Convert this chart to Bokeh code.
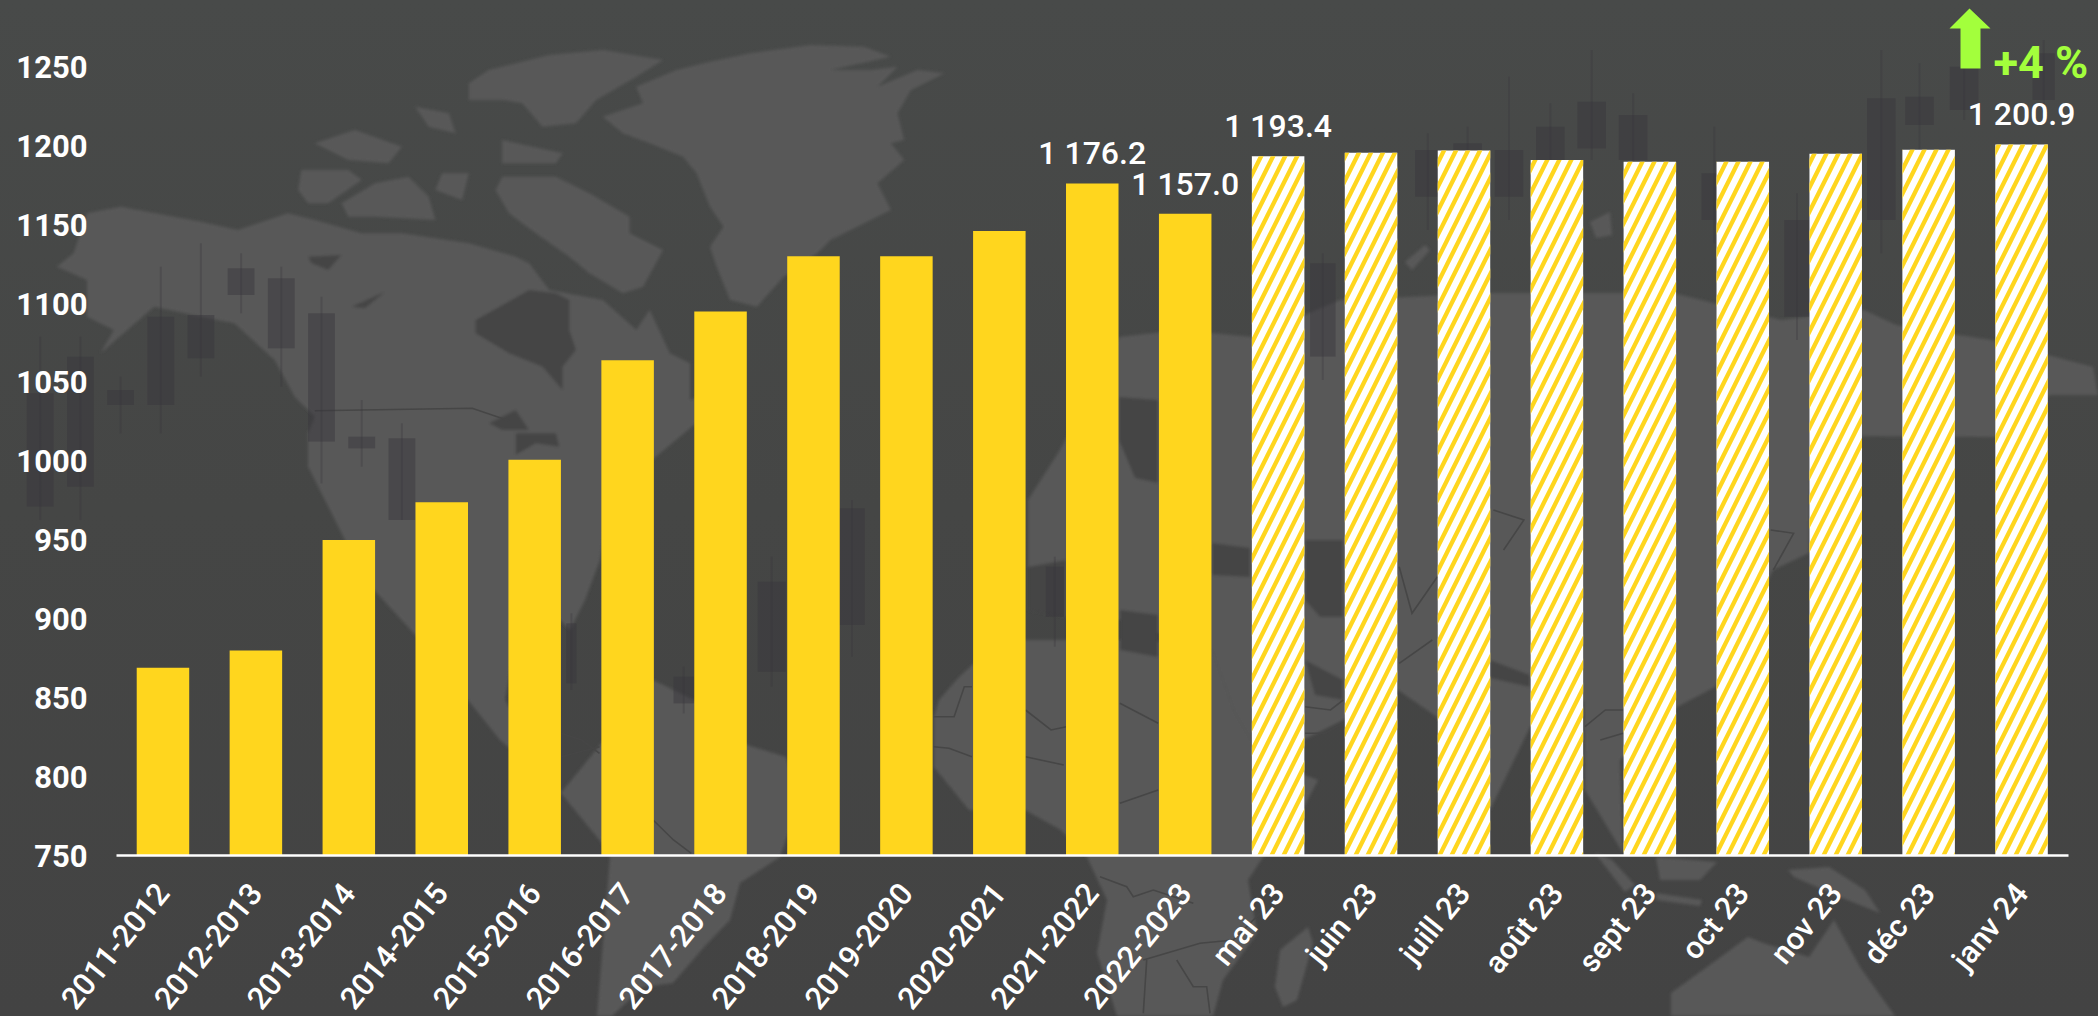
from math import radians
from urllib.parse import quote
from bokeh.plotting import figure
from bokeh.models import (Range1d, PolyAnnotation, Label, GlobalInlineStyleSheet,
                          FixedTicker, ColumnDataSource)
from bokeh.core.properties import value
from bokeh.embed import file_html
from bokeh.resources import INLINE

# ---------- data ----------
categories = ["2011-2012", "2012-2013", "2013-2014", "2014-2015", "2015-2016", "2016-2017",
              "2017-2018", "2018-2019", "2019-2020", "2020-2021", "2021-2022", "2022-2023",
              "mai 23", "juin 23", "juill 23", "août 23", "sept 23", "oct 23", "nov 23",
              "déc 23", "janv 24"]
annual_categories = categories[:12]
annual_values = [869, 880, 950, 974, 1001, 1064, 1095, 1130, 1130, 1146, 1176.2, 1157.0]
monthly_categories = categories[12:]
monthly_values = [1193.4, 1195.7, 1197, 1191, 1190, 1190, 1195, 1197.5, 1200.9]
label_categories = ["2021-2022", "2022-2023", "mai 23", "janv 24"]
label_values = [1176.2, 1157.0, 1193.4, 1200.9]
label_texts = ["1 176.2", "1 157.0", "1 193.4", "1 200.9"]
y_ticks = [750, 800, 850, 900, 950, 1000, 1050, 1100, 1150, 1200, 1250]
change_text = "+4 %"

# ---------- decorative backdrop (window pixels) ----------
BG = "#454545"
LAND = "#585858"
YELLOW = "#FFD61E"
GREEN = "#A3FF3C"


def z5(pts):
    return [(x / 1.493, y / 3) for x, y in pts]


def z6(pts):
    return [(x / 1.96 + 500, y / 3 + 500) for x, y in pts]


def z8(pts):
    return [(x / 1.965 + 1300, y / 3 + 500) for x, y in pts]


def z4(pts):
    return [(x / 3 + 1100, y / 3 + 780) for x, y in pts]


land = [
    z5([(1120,160),(1210,135),(1290,140),(1330,170),(1240,210),(1300,210),(1340,200),(1310,260),(1370,210),
        (1410,220),(1360,270),(1340,340),(1350,420),(1330,430),(1350,480),(1310,550),(1330,630),(1280,680),
        (1240,720),(1220,760),(1170,830),(1130,920),(1090,900),(1070,800),(1060,740),(1080,680),(1060,620),
        (1040,520),(1020,470),(970,430),(930,400),(900,350),(960,310),(950,260),(1010,210),(1060,185)]),
    z5([(730,210),(820,165),(900,150),(990,180),(950,230),(890,300),(860,370),(810,380),(780,310),(750,300),(700,300),(700,250)]),
    z5([(750,530),(830,530),(880,580),(940,650),(940,700),(990,750),(960,860),(930,880),(880,820),(850,770),(800,700),(760,640),(740,570)]),
    z5([(450,510),(520,510),(540,540),(490,610),(460,610),(445,570)]),
    z5([(510,610),(560,550),(610,530),(640,590),(650,660),(560,650),(520,650)]),
    z5([(470,430),(530,390),(600,440),(580,490),(520,480)]),
    z5([(620,320),(670,340),(680,400),(640,380)]),
    z5([(660,520),(700,520),(690,600),(650,570)]),
    z5([(750,420),(840,460),(830,490),(750,490)]),
    z5([(130,640),(180,620),(300,665),(355,690),(430,640),(470,660),(540,700),(600,700),(700,730),(770,770),
        (790,790),(820,870),(900,900),(950,990),(970,930),(1000,1060),(1030,1090),(1030,1200),(1060,1180)])
    + [(700,420),(640,470),(610,500),(600,560),(585,600),(570,630),(550,610),(520,620),(505,700),(560,790),
       (602,843),(561,793),(500,740),(420,640),(365,580),(335,520)]
    + z5([(460,1400),(460,1300),(470,1250),(440,1190),(410,1080),(350,970),(300,950),(230,920),(150,1060),
          (170,990),(130,950),(130,840),(85,800),(110,760)]),
    [(561,793),(653,680),(694,700),(747,745),(786,757),(800,800),(780,857),(740,883),(730,920),(704,947),
     (673,983),(643,987),(612,1016),(597,1016),(610,857),(602,843)],
    [(934,717),(939,700),(959,677),(1000,640),(1150,640),(1212,650),(1235,713),(1263,760),(1318,780),(1305,805),
     (1263,857),(1248,880),(1257,933),(1223,980),(1213,1016),(1117,1016),(1097,953),(1107,900),(1087,857),
     (1061,830),(1025,810),(969,810),(934,767)],
    [(1308,927),(1313,943),(1297,1000),(1283,1007),(1275,987),(1280,950)],
    [(1028,500),(1060,450),(1119,337),(1180,330),(1253,337),(1340,300),(1495,293),(1673,293),(1781,320),(1864,310),
     (1896,325),(1991,340),(2093,367),(2098,395),(2050,395),(1994,437),(1860,436),(1810,480),(1809,553),(1773,570),
     (1715,687),(1677,707),(1620,760),(1623,853),(1585,790),(1584,700),(1530,727),(1490,810),(1437,717),(1398,690),
     (1343,720),(1263,760),(1235,713),(1212,650),(1120,620),(1066,617),(1028,600)],
    [(1405,262),(1425,245),(1430,250),(1412,270)],
    [(1590,222),(1610,212),(1612,235),(1596,238)],
    [(1595,853),(1612,860),(1635,885),(1625,892)],
    [(1656,893),(1702,900),(1700,906),(1656,900)],
    [(1656,857),(1717,862),(1700,880),(1660,880)],
    [(1788,870),(1829,867),(1865,890),(1880,913),(1840,897),(1794,877)],
    [(1671,993),(1707,967),(1748,937),(1763,943),(1809,957),(1834,920),(1860,967),(1895,1016),(1671,1016)],
]
water = [
    z5([(710,960),(790,870),(830,880),(850,900),(850,990),(860,1050),(840,1100),(840,1170),(810,1100),(760,1060),(710,1000)]),
    z5([(460,770),(510,765),(490,810),(465,790)]),
    z5([(525,920),(575,875),(545,925)]),
    z5([(730,1270),(770,1230),(790,1290),(750,1290)]),
    z5([(770,1300),(830,1300),(835,1340),(800,1330),(770,1365)]),
    [(1119,397),(1158,400),(1158,483),(1135,478),(1119,440)],
    [(1028,567),(1066,560),(1066,617),(1028,610)],
    [(1120,610),(1158,615),(1158,657),(1120,650)],
    [(1212,543),(1250,548),(1250,577),(1212,575)],
    [(1305,540),(1343,540),(1343,617),(1320,617),(1305,600)],
    [(1305,660),(1343,680),(1343,700),(1315,695)],
    [(1490,660),(1530,675),(1530,687),(1490,678)],
]
borders = [
    z5([(470,1232),(705,1225),(760,1262)]),
    z6([(850,650),(890,650),(910,560),(925,560)]), z6([(1030,630),(1080,690),(1110,680)]), z6([(1215,610),(1290,670)]),
    z6([(850,740),(880,745),(925,770)]), z6([(1030,770),(1105,795)]), z6([(1215,910),(1290,870)]),
    z6([(120,700),(160,720),(195,760)]), z6([(300,960),(340,1020),(375,1060)]), z6([(120,770),(195,740)]),
    z4([(0,290),(80,320),(100,350),(160,330),(280,370)]), z4([(130,540),(300,490),(400,480),(480,400)]),
    z4([(140,540),(130,700)]), z4([(230,540),(280,620),(320,620),(330,700)]),
    z8([(195,200),(220,340),(270,230)]), z8([(400,150),(440,60),(380,30)]), z8([(195,490),(260,420)]),
    z8([(930,210),(970,100),(925,90)]), z8([(560,680),(600,630),(635,630)]), z8([(590,720),(635,700)]),
    z8([(10,620),(60,630),(85,600)]), z8([(10,700),(50,700),(85,670)]),
]

c5 = [(40,80,1180,1520,1010,1560),(100,140,1070,1460,1010,1560),(160,200,1170,1215,1130,1300),(220,260,950,1215,800,1300),
      (280,320,945,1075,730,1130),(340,380,805,885,760,940),(400,440,835,1045,800,1160),(460,500,940,1325,890,1450),
      (520,560,1310,1345,1200,1400),(580,620,1315,1560,1270,1560)]
c7 = [(750,795,245,385,90,420),(815,860,285,420,220,600),(685,730,320,480,250,600),(555,600,370,530,320,620),
      (1205,1250,235,600,90,700),(1265,1310,230,315,130,400),(1335,1380,140,270,30,300),(1075,1115,600,890,520,960),
      (945,985,460,600,320,670),(495,535,390,530,340,630),(620,665,390,530,170,600),(330,370,730,1010,700,1080),
      (1465,1500,100,240,60,280)]
c6 = [(505,560,245,515,170,560),(665,715,25,375,0,470),(130,150,370,550,340,570),(340,380,530,610,500,640),(1070,1105,200,350,170,440)]
bodies = []
for cx, ox, oy, rows in [(1.493, 0, 0, c5), (1.571, 1100, 20, c7), (1.96, 500, 500, c6)]:
    for x1, x2, y1, y2, w1, w2 in rows:
        bodies.append((x1 / cx + ox, x2 / cx + ox, y1 / 3 + oy, y2 / 3 + oy, w1 / 3 + oy, w2 / 3 + oy))


def pts(poly):
    return " ".join(f"{a:.1f},{b:.1f}" for a, b in poly)


svg = ['<svg xmlns="http://www.w3.org/2000/svg" width="2098" height="1016" viewBox="0 0 2098 1016">',
       '<defs><linearGradient id="g" x1="0" y1="0" x2="0" y2="1"><stop offset="0" stop-color="#484A49"/>'
       '<stop offset="0.5" stop-color="#454645"/><stop offset="1" stop-color="#434343"/></linearGradient>'
       '<filter id="b" x="-2%" y="-2%" width="104%" height="104%"><feGaussianBlur stdDeviation="1.6"/></filter></defs>',
       '<rect width="2098" height="1016" fill="url(#g)"/>', '<g filter="url(#b)">']
svg += [f'<polygon points="{pts(q)}" fill="{LAND}"/>' for q in land]
svg += [f'<polygon points="{pts(q)}" fill="{BG}"/>' for q in water]
svg.append("</g>")
svg += [f'<polyline points="{pts(q)}" fill="none" stroke="#464646" stroke-width="1.6"/>' for q in borders]
for x1, x2, y1, y2, w1, w2 in bodies:
    xm = (x1 + x2) / 2
    svg.append(f'<rect x="{xm-1:.1f}" y="{w1:.1f}" width="2" height="{w2-w1:.1f}" fill="#37363c" fill-opacity="0.3"/>')
    svg.append(f'<rect x="{x1:.1f}" y="{y1:.1f}" width="{x2-x1:.1f}" height="{y2-y1:.1f}" fill="#37363c" fill-opacity="0.45"/>')
svg.append("</svg>")
backdrop = quote("".join(svg), safe="")

# ---------- figure ----------
FRAME_LEFT, FRAME_BOTTOM = 116, 855
STEP = 92.93
FRAME_W = 2098 - FRAME_LEFT
positions = {c: i for i, c in enumerate(categories)}
p = figure(width=2098, height=1016, frame_width=FRAME_W, frame_height=FRAME_BOTTOM,
           output_backend="svg", toolbar_location=None,
           x_range=Range1d(-0.5, -0.5 + FRAME_W / STEP),
           y_range=Range1d(750, 1292.2),
           min_border_left=FRAME_LEFT, min_border_right=0, min_border_top=0, min_border_bottom=0,
           background_fill_color=None, border_fill_color=None, outline_line_color=None)
p.stylesheets = [GlobalInlineStyleSheet(css=(
    f'html,body{{margin:0;padding:0;overflow:hidden;background:{BG} url("data:image/svg+xml,{backdrop}") 0 0/2098px 1016px no-repeat}}'))]
p.grid.visible = False

# bars
p.vbar(x=[positions[c] for c in annual_categories], top=annual_values, bottom=750, width=0.565,
       fill_color=YELLOW, line_color=None)
p.vbar(x=[positions[c] for c in monthly_categories], top=monthly_values, bottom=750, width=0.565,
       fill_color="#FFFFFF", line_color=None,
       hatch_pattern="right_diagonal_line", hatch_color=YELLOW, hatch_scale=24, hatch_weight=4.3)

# value labels
src = ColumnDataSource(dict(x=[positions[c] for c in label_categories], y=label_values, t=label_texts))
p.text(x="x", y="y", text="t", source=src, text_color="#FFFFFF", text_align="center", text_baseline="bottom",
       y_offset=-11, text_font=value("Roboto Medium"), text_font_size="32px")

# axes
ya = p.yaxis[0]
ya.ticker = FixedTicker(ticks=y_ticks)
ya.axis_line_color = None
ya.major_tick_line_color = None
ya.minor_tick_line_color = None
ya.major_label_text_color = "#FFFFFF"
ya.major_label_text_font = "Roboto"
ya.major_label_text_font_size = "31px"
ya.major_label_text_font_style = "bold"
ya.major_label_standoff = 23

xa = p.xaxis[0]
xa.ticker = FixedTicker(ticks=list(range(len(categories))))
xa.major_label_overrides = {i: c for i, c in enumerate(categories)}
xa.bounds = (-0.5, len(categories) - 0.5)
xa.axis_line_color = "#FFFFFF"
xa.axis_line_width = 2.5
xa.major_tick_line_color = None
xa.minor_tick_line_color = None
xa.major_label_text_color = "#FFFFFF"
xa.major_label_text_font = "Roboto Medium"
xa.major_label_text_font_size = "31px"
xa.major_label_orientation = radians(51)
xa.major_label_standoff = 26

# change marker (annotation pixels count from the frame's lower left corner)
arrow = [(1969,8),(1990,28),(1980,28),(1980,68),(1960,68),(1960,28),(1949,28)]
p.add_layout(PolyAnnotation(xs=[a - FRAME_LEFT for a, _ in arrow], ys=[FRAME_BOTTOM - b for _, b in arrow],
                            xs_units="screen", ys_units="screen", fill_color=GREEN, fill_alpha=1, line_color=None))
p.add_layout(Label(x=1993 - FRAME_LEFT, y=FRAME_BOTTOM - 62, x_units="screen", y_units="screen", text=change_text,
                   text_color=GREEN, text_font="Roboto", text_font_style="bold",
                   text_font_size="45px", text_baseline="alphabetic"))

open("out.html", "w").write(file_html(p, INLINE))
